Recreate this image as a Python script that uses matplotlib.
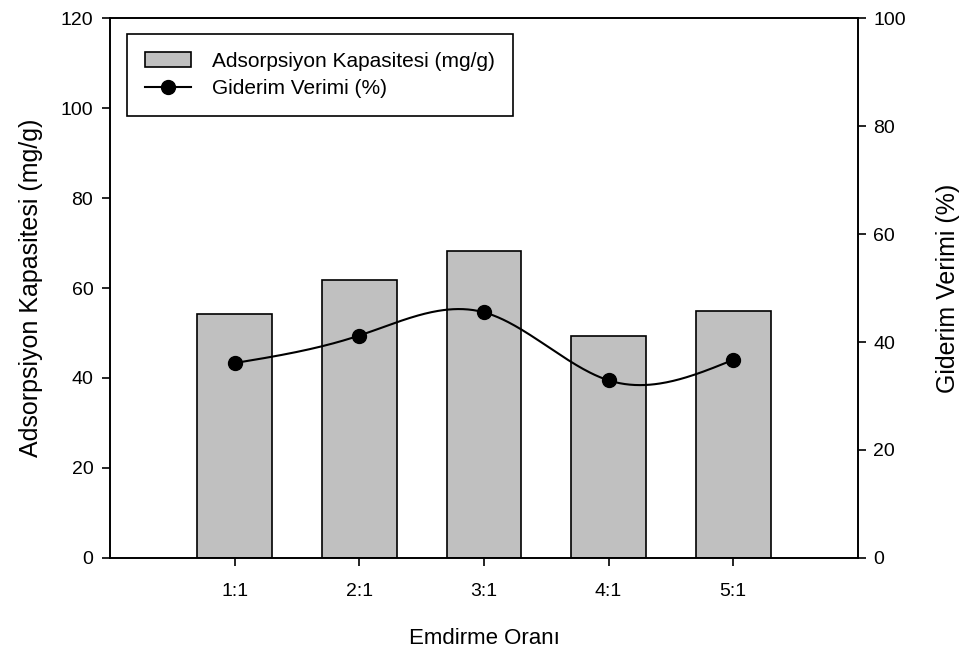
import numpy as np
import matplotlib.pyplot as plt
from matplotlib.patches import Patch
from matplotlib.lines import Line2D

plt.rcParams['font.family'] = ['Liberation Sans', 'DejaVu Sans']

oranlar = ['1:1', '2:1', '3:1', '4:1', '5:1']
kapasite = [54.2, 61.7, 68.3, 49.3, 54.9]      # mg/g
verim = [36.1, 41.2, 45.5, 32.9, 36.7]          # %


def dogal_spline(x, y, n=300):
    # natural cubic spline through the points
    x = np.asarray(x, float)
    y = np.asarray(y, float)
    k = len(x)
    h = np.diff(x)
    A = np.zeros((k, k))
    b = np.zeros(k)
    A[0, 0] = A[-1, -1] = 1
    for i in range(1, k - 1):
        A[i, i - 1] = h[i - 1]
        A[i, i] = 2 * (h[i - 1] + h[i])
        A[i, i + 1] = h[i]
        b[i] = 3 * ((y[i + 1] - y[i]) / h[i] - (y[i] - y[i - 1]) / h[i - 1])
    c = np.linalg.solve(A, b)
    xs = np.linspace(x[0], x[-1], n)
    ys = np.empty_like(xs)
    for j, xv in enumerate(xs):
        i = min(np.searchsorted(x, xv, side='right') - 1, k - 2)
        d = xv - x[i]
        bi = (y[i + 1] - y[i]) / h[i] - h[i] * (2 * c[i] + c[i + 1]) / 3
        di = (c[i + 1] - c[i]) / (3 * h[i])
        ys[j] = y[i] + bi * d + c[i] * d ** 2 + di * d ** 3
    return xs, ys


x = np.arange(1, len(oranlar) + 1)

fig = plt.figure(figsize=(9.65, 6.48), dpi=100)
ax = fig.add_axes([0.114, 0.139, 0.775, 0.833])
ax.bar(x, kapasite, width=0.6, color='#c0c0c0', edgecolor='black', linewidth=1.2, zorder=2)
ax.set_xlim(0, 6)
ax.set_ylim(0, 120)
ax.set_yticks(range(0, 121, 20))
ax.set_xticks(x)
ax.set_xticklabels(oranlar)
ax.tick_params(direction='out', length=6, labelsize=14, width=1.2)
ax.tick_params(axis='x', pad=12)
ax.tick_params(axis='y', pad=6)
ax.set_xlabel('Emdirme Oranı', fontsize=16, labelpad=20)
ax.set_ylabel('Adsorpsiyon Kapasitesi (mg/g)', fontsize=18, labelpad=13)

ax2 = ax.twinx()
xs, ys = dogal_spline(x, verim)
ax2.plot(xs, ys, color='black', linewidth=1.5, zorder=3)
ax2.plot(x, verim, 'o', color='black', markersize=10, zorder=4)
ax2.set_ylim(0, 100)
ax2.set_yticks(range(0, 101, 20))
ax2.tick_params(direction='out', length=6, labelsize=14, width=1.2, pad=5)
ax2.set_ylabel('Giderim Verimi (%)', fontsize=18, labelpad=22)

for a in (ax, ax2):
    for s in a.spines.values():
        s.set_linewidth(1.2)

handles = [Patch(facecolor='#c0c0c0', edgecolor='black', linewidth=1.2),
           Line2D([], [], color='black', marker='o', markersize=10, linewidth=1.5)]
leg = ax2.legend(handles, ['Adsorpsiyon Kapasitesi (mg/g)', 'Giderim Verimi (%)'],
                 loc='upper left', bbox_to_anchor=(0.0227, 0.97), borderaxespad=0,
                 fontsize=15, frameon=True, fancybox=False, edgecolor='black',
                 framealpha=1, handlelength=2.2, handletextpad=1.05,
                 borderpad=0.85, labelspacing=0.4)
leg.get_frame().set_linewidth(1.2)

fig.savefig('out.png', dpi=100)
